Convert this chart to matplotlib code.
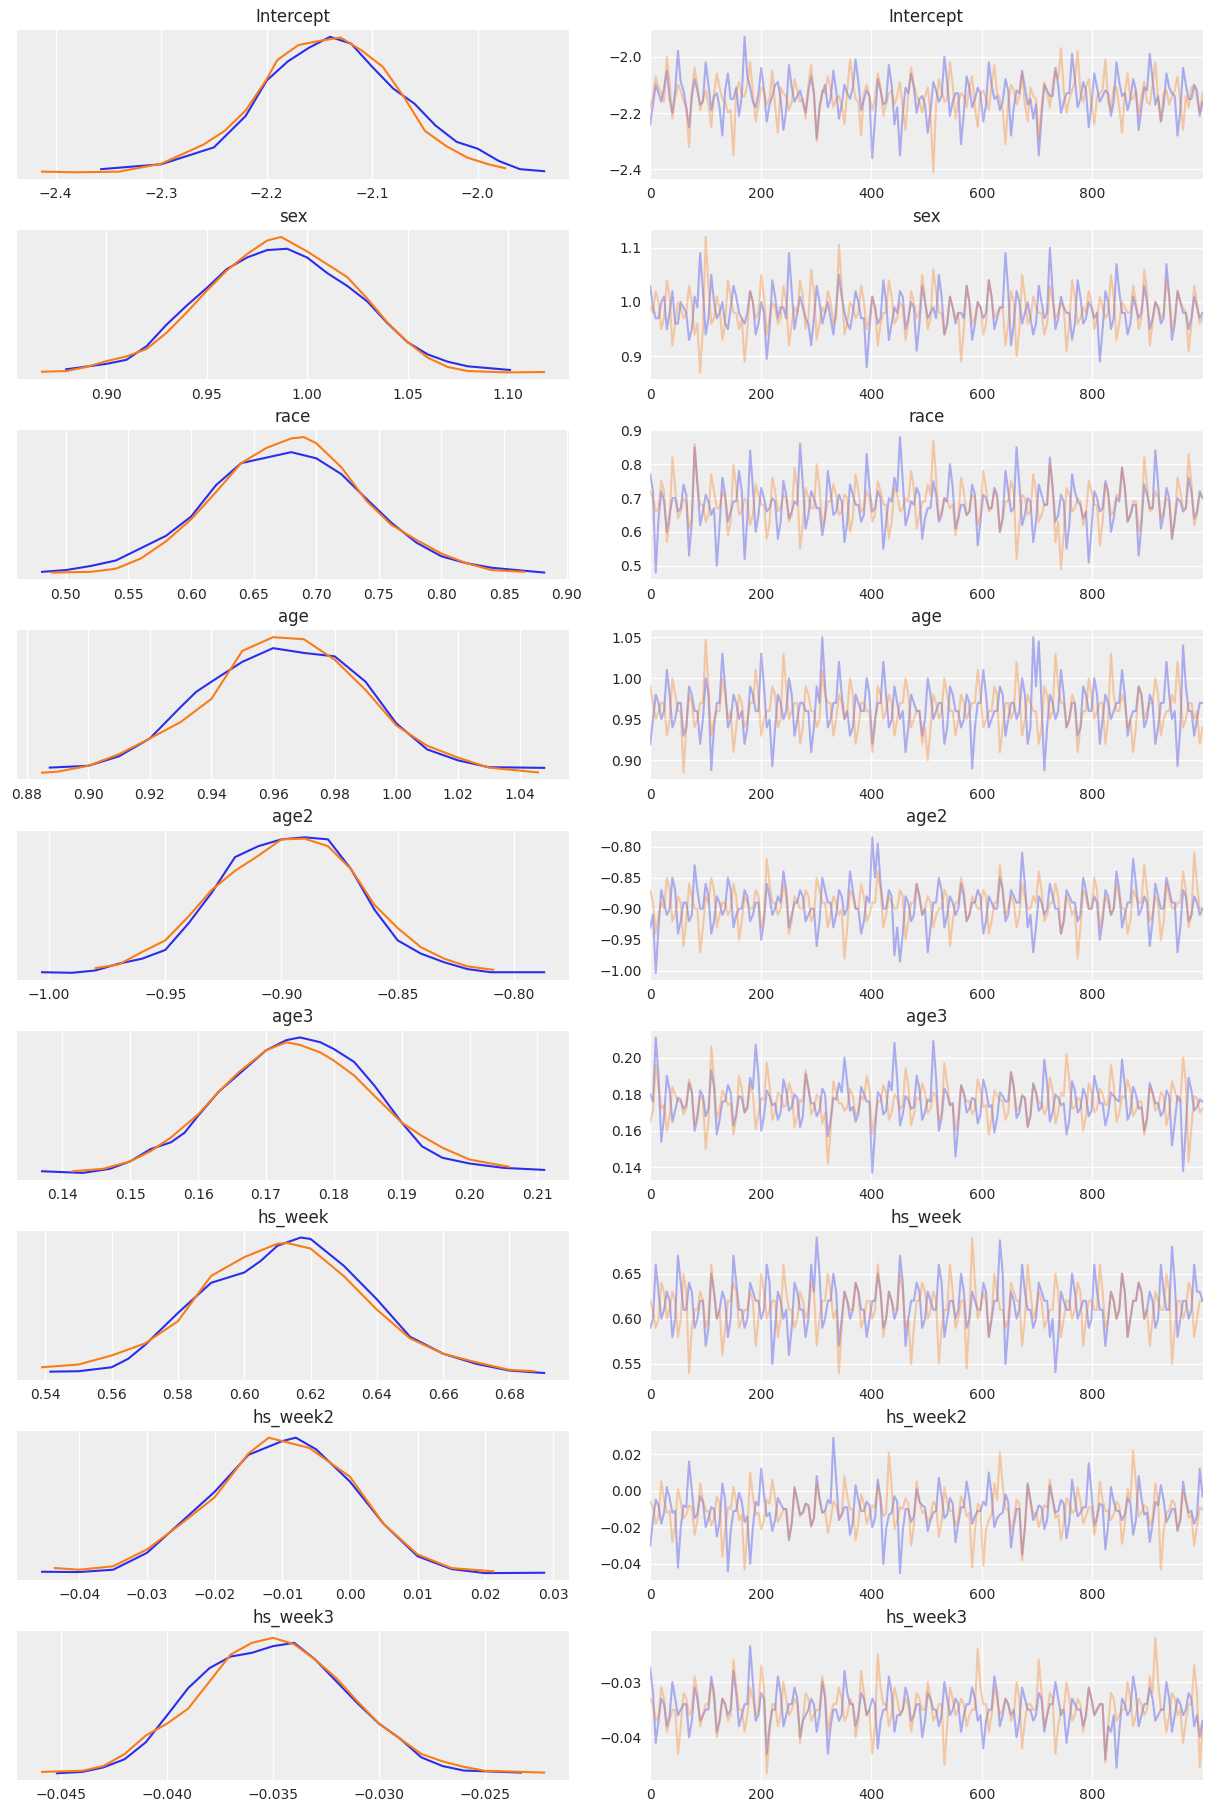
import matplotlib
matplotlib.use("Agg")
import matplotlib.pyplot as plt
import numpy as np

# posterior trace plot, 2 chains, 9 parameters
var_names = ["Intercept", "sex", "race", "age", "age2", "age3",
             "hs_week", "hs_week2", "hs_week3"]

BLUE = "#2a2eec"
ORANGE = "#fa7c17"

# ---- KDE curves (x position, relative density) ----
kde_x = {
    "Intercept": (
        [-2.357, -2.30, -2.25, -2.22, -2.20, -2.18, -2.16, -2.14, -2.12, -2.10,
         -2.08, -2.06, -2.04, -2.02, -2.00, -1.98, -1.96, -1.937],
        [-2.413, -2.38, -2.34, -2.30, -2.26, -2.24, -2.22, -2.20, -2.19, -2.17,
         -2.15, -2.13, -2.11, -2.09, -2.07, -2.05, -2.03, -2.01, -1.99, -1.974]),
    "sex": (
        [0.880, 0.90, 0.91, 0.92, 0.93, 0.94, 0.95, 0.96, 0.97, 0.98, 0.99,
         1.00, 1.01, 1.02, 1.03, 1.04, 1.05, 1.06, 1.07, 1.08, 1.101],
        [0.868, 0.88, 0.89, 0.90, 0.91, 0.92, 0.93, 0.94, 0.95, 0.96, 0.97,
         0.98, 0.987, 1.00, 1.01, 1.02, 1.03, 1.04, 1.05, 1.06, 1.07, 1.08,
         1.10, 1.118]),
    "race": (
        [0.481, 0.50, 0.52, 0.54, 0.56, 0.58, 0.60, 0.62, 0.64, 0.66, 0.68,
         0.70, 0.72, 0.74, 0.76, 0.78, 0.80, 0.82, 0.84, 0.86, 0.882],
        [0.489, 0.52, 0.54, 0.56, 0.58, 0.60, 0.62, 0.64, 0.66, 0.68, 0.69,
         0.70, 0.72, 0.74, 0.76, 0.78, 0.80, 0.82, 0.84, 0.866]),
    "age": (
        [0.8875, 0.90, 0.91, 0.92, 0.93, 0.935, 0.94, 0.95, 0.96, 0.97, 0.98,
         0.99, 1.00, 1.01, 1.02, 1.03, 1.048],
        [0.885, 0.89, 0.90, 0.91, 0.92, 0.93, 0.94, 0.95, 0.96, 0.97, 0.98,
         0.99, 1.00, 1.01, 1.02, 1.03, 1.046]),
    "age2": (
        [-1.003, -0.99, -0.98, -0.97, -0.96, -0.95, -0.94, -0.93, -0.92, -0.91,
         -0.90, -0.89, -0.88, -0.87, -0.86, -0.85, -0.84, -0.83, -0.82, -0.81,
         -0.787],
        [-0.980, -0.97, -0.96, -0.95, -0.94, -0.93, -0.92, -0.91, -0.90, -0.89,
         -0.88, -0.87, -0.86, -0.85, -0.84, -0.83, -0.82, -0.809]),
    "age3": (
        [0.137, 0.143, 0.147, 0.150, 0.153, 0.156, 0.158, 0.160, 0.163, 0.166,
         0.170, 0.173, 0.175, 0.178, 0.180, 0.183, 0.186, 0.190, 0.193, 0.196,
         0.200, 0.205, 0.211],
        [0.1415, 0.146, 0.150, 0.153, 0.156, 0.160, 0.163, 0.166, 0.170, 0.173,
         0.175, 0.178, 0.180, 0.183, 0.186, 0.190, 0.193, 0.196, 0.200, 0.2058]),
    "hs_week": (
        [0.5415, 0.55, 0.56, 0.565, 0.57, 0.58, 0.59, 0.60, 0.605, 0.61, 0.617,
         0.62, 0.63, 0.64, 0.65, 0.66, 0.67, 0.68, 0.6905],
        [0.539, 0.55, 0.56, 0.57, 0.58, 0.59, 0.60, 0.61, 0.613, 0.62, 0.63,
         0.64, 0.65, 0.66, 0.67, 0.68, 0.6875]),
    "hs_week2": (
        [-0.0455, -0.040, -0.035, -0.030, -0.025, -0.020, -0.015, -0.010,
         -0.008, -0.005, 0.000, 0.005, 0.010, 0.015, 0.020, 0.0287],
        [-0.0436, -0.040, -0.035, -0.030, -0.025, -0.020, -0.015, -0.012,
         -0.010, -0.006, 0.000, 0.005, 0.010, 0.015, 0.0212]),
    "hs_week3": (
        [-0.0452, -0.044, -0.043, -0.042, -0.041, -0.040, -0.039, -0.038,
         -0.037, -0.036, -0.035, -0.034, -0.033, -0.032, -0.031, -0.030,
         -0.029, -0.028, -0.027, -0.026, -0.0233],
        [-0.0459, -0.044, -0.043, -0.042, -0.041, -0.040, -0.039, -0.038,
         -0.037, -0.036, -0.035, -0.034, -0.033, -0.032, -0.031, -0.030,
         -0.029, -0.028, -0.027, -0.026, -0.025, -0.0222]),
}

kde_y = {
    "Intercept": (
        [0.03, 0.066, 0.19, 0.42, 0.68, 0.82, 0.92, 1.0, 0.95, 0.78,
         0.62, 0.51, 0.35, 0.23, 0.18, 0.09, 0.03, 0.015],
        [0.012, 0.007, 0.012, 0.07, 0.21, 0.31, 0.46, 0.69, 0.83, 0.94,
         0.97, 0.995, 0.90, 0.78, 0.56, 0.31, 0.20, 0.115, 0.066, 0.037]),
    "sex": (
        [0.03, 0.07, 0.10, 0.20, 0.36, 0.50, 0.63, 0.77, 0.855, 0.91, 0.92,
         0.855, 0.74, 0.645, 0.53, 0.37, 0.23, 0.14, 0.086, 0.052, 0.025],
        [0.012, 0.017, 0.047, 0.09, 0.125, 0.18, 0.30, 0.45, 0.61, 0.76, 0.88,
         0.98, 1.007, 0.90, 0.805, 0.71, 0.55, 0.375, 0.23, 0.116, 0.047, 0.017,
         0.007, 0.01]),
    "race": (
        [0.017, 0.03, 0.06, 0.10, 0.19, 0.28, 0.42, 0.65, 0.81, 0.85, 0.89,
         0.845, 0.73, 0.55, 0.375, 0.23, 0.13, 0.08, 0.047, 0.03, 0.012],
        [0.012, 0.017, 0.04, 0.115, 0.24, 0.40, 0.60, 0.81, 0.92, 0.99, 1.0,
         0.955, 0.78, 0.535, 0.36, 0.25, 0.15, 0.08, 0.03, 0.017]),
    "age": (
        [0.047, 0.06, 0.13, 0.26, 0.49, 0.60, 0.675, 0.82, 0.92, 0.885, 0.86,
         0.675, 0.37, 0.18, 0.10, 0.05, 0.045],
        [0.01, 0.017, 0.06, 0.145, 0.26, 0.38, 0.55, 0.90, 1.0, 0.985, 0.835,
         0.615, 0.355, 0.207, 0.12, 0.047, 0.012]),
    "age2": (
        [0.007, 0.003, 0.02, 0.07, 0.106, 0.17, 0.365, 0.59, 0.85, 0.93,
         0.98, 0.995, 0.98, 0.76, 0.465, 0.24, 0.143, 0.08, 0.03, 0.007,
         0.007],
        [0.037, 0.064, 0.155, 0.24, 0.415, 0.61, 0.75, 0.86, 0.98, 0.985,
         0.93, 0.76, 0.50, 0.33, 0.19, 0.106, 0.05, 0.025]),
    "age3": (
        [0.017, 0.005, 0.035, 0.09, 0.18, 0.23, 0.30, 0.425, 0.60, 0.73,
         0.905, 0.98, 1.0, 0.965, 0.915, 0.82, 0.645, 0.375, 0.20, 0.116,
         0.074, 0.042, 0.027],
        [0.017, 0.035, 0.09, 0.165, 0.265, 0.435, 0.60, 0.745, 0.905, 0.965,
         0.945, 0.89, 0.83, 0.72, 0.57, 0.375, 0.276, 0.19, 0.103, 0.05]),
    "hs_week": (
        [0.022, 0.025, 0.054, 0.116, 0.215, 0.45, 0.67, 0.745, 0.83, 0.94,
         1.0, 0.99, 0.795, 0.55, 0.277, 0.153, 0.079, 0.03, 0.012],
        [0.054, 0.074, 0.14, 0.227, 0.39, 0.72, 0.857, 0.955, 0.96, 0.92,
         0.72, 0.475, 0.265, 0.153, 0.09, 0.035, 0.025]),
    "hs_week2": (
        [0.017, 0.015, 0.032, 0.155, 0.377, 0.60, 0.87, 0.97, 0.995, 0.91,
         0.675, 0.365, 0.13, 0.037, 0.007, 0.01],
        [0.044, 0.032, 0.057, 0.18, 0.365, 0.56, 0.88, 0.995, 0.97, 0.92,
         0.71, 0.365, 0.143, 0.044, 0.02]),
    "hs_week3": (
        [0.007, 0.017, 0.05, 0.11, 0.234, 0.43, 0.63, 0.775, 0.86, 0.887,
         0.936, 0.96, 0.837, 0.677, 0.517, 0.37, 0.26, 0.123, 0.06, 0.027,
         0.012],
        [0.017, 0.025, 0.06, 0.148, 0.283, 0.37, 0.48, 0.677, 0.874, 0.96,
         0.997, 0.95, 0.837, 0.70, 0.53, 0.37, 0.26, 0.148, 0.094, 0.054,
         0.025, 0.012]),
}

# ---- traces: chain 0 (blue) and chain 1 (orange), sampled every ~5 draws.
# *_even are draws 0, 10, 20, ...; *_odd are the draws in between ----
blue_even = {
    "Intercept": [
        -2.24, -2.10, -2.16, -2.05, -2.20, -1.98, -2.12, -2.25, -2.08, -2.17,
        -2.02, -2.19, -2.13, -2.28, -2.06, -2.15, -2.21, -1.93, -2.11, -2.18,
        -2.04, -2.23, -2.14, -2.09, -2.26, -2.03, -2.16, -2.12, -2.20, -2.07,
        -2.29, -2.13, -2.18, -2.05, -2.22, -2.10, -2.15, -2.01, -2.19, -2.12,
        -2.36, -2.08, -2.17, -2.03, -2.24, -2.35, -2.11, -2.06, -2.20, -2.14,
        -2.27, -2.09, -2.16, -2.00, -2.21, -2.13, -2.31, -2.07, -2.18, -2.11,
        -2.23, -2.02, -2.15, -2.19, -2.08, -2.28, -2.12, -2.05, -2.17, -2.22,
        -2.35, -2.10, -2.14, -2.04, -2.20, -2.13, -1.99, -2.18, -2.09, -2.25,
        -2.06, -2.16, -2.12, -2.21, -2.02, -2.14, -2.19, -2.08, -2.26, -2.11,
        -1.99, -2.17, -2.23, -2.06, -2.13, -2.28, -2.04, -2.15, -2.10, -2.21],
    "sex": [
        1.03, 0.97, 1.00, 0.95, 1.02, 0.96, 0.99, 0.93, 1.01, 1.09,
        0.94, 1.05, 0.97, 1.00, 0.95, 1.03, 0.98, 0.96, 1.02, 0.94,
        1.00, 0.895, 1.04, 0.97, 0.99, 1.09, 0.95, 1.01, 0.97, 0.92,
        1.03, 0.96, 1.00, 0.94, 1.05, 0.98, 0.95, 1.02, 0.97, 0.88,
        1.01, 0.96, 1.04, 0.93, 0.99, 1.02, 0.95, 1.00, 0.91, 1.03,
        0.97, 0.99, 1.05, 0.94, 1.01, 0.96, 0.98, 1.03, 0.93, 1.00,
        0.97, 1.04, 0.95, 0.99, 1.09, 0.92, 1.02, 0.96, 1.00, 0.94,
        1.03, 0.97, 1.10, 0.95, 1.01, 0.98, 0.93, 1.04, 0.96, 1.00,
        0.97, 0.89, 1.02, 0.95, 1.07, 0.98, 0.94, 1.01, 0.97, 1.03,
        0.95, 1.00, 0.96, 1.07, 0.93, 1.02, 0.98, 0.95, 1.01, 0.97],
    "race": [
        0.77, 0.48, 0.72, 0.60, 0.70, 0.66, 0.74, 0.53, 0.85, 0.62,
        0.71, 0.65, 0.50, 0.76, 0.63, 0.69, 0.78, 0.52, 0.84, 0.60,
        0.73, 0.66, 0.70, 0.58, 0.75, 0.64, 0.69, 0.86, 0.61, 0.72,
        0.67, 0.59, 0.78, 0.65, 0.71, 0.57, 0.74, 0.68, 0.63, 0.83,
        0.66, 0.72, 0.55, 0.70, 0.76, 0.88, 0.62, 0.69, 0.73, 0.58,
        0.67, 0.75, 0.63, 0.70, 0.80, 0.61, 0.68, 0.65, 0.74, 0.56,
        0.71, 0.67, 0.73, 0.60, 0.78, 0.66, 0.85, 0.62, 0.70, 0.57,
        0.74, 0.68, 0.82, 0.63, 0.71, 0.55, 0.77, 0.69, 0.64, 0.51,
        0.72, 0.66, 0.75, 0.60, 0.70, 0.79, 0.63, 0.68, 0.53, 0.74,
        0.67, 0.84, 0.61, 0.73, 0.58, 0.70, 0.66, 0.76, 0.64, 0.72],
    "age": [
        0.92, 0.98, 0.95, 1.01, 0.94, 0.97, 0.93, 0.99, 0.96, 0.92,
        1.00, 0.888, 0.97, 1.03, 0.94, 0.98, 0.95, 0.92, 0.99, 0.96,
        1.03, 0.94, 0.893, 0.98, 0.95, 1.00, 0.93, 0.97, 0.96, 0.91,
        0.99, 1.05, 0.94, 0.97, 1.02, 0.95, 0.93, 0.98, 0.96, 1.00,
        0.92, 0.97, 1.02, 0.94, 0.99, 0.95, 0.91, 0.98, 0.96, 0.93,
        1.00, 0.95, 0.97, 0.92, 0.99, 0.96, 0.94, 0.98, 0.89, 0.97,
        1.01, 0.94, 0.96, 0.99, 0.93, 0.97, 0.95, 1.00, 0.92, 1.05,
        1.045, 0.888, 0.98, 0.95, 1.01, 0.94, 0.97, 0.93, 0.99, 0.96,
        1.00, 0.92, 0.98, 0.95, 0.97, 1.01, 0.93, 0.96, 0.99, 0.94,
        0.98, 0.92, 0.97, 1.02, 0.95, 0.893, 1.04, 0.96, 0.93, 0.97],
    "age2": [
        -0.93, -1.003, -0.87, -0.91, -0.85, -0.94, -0.89, -0.92, -0.83, -0.90,
        -0.86, -0.94, -0.88, -0.91, -0.85, -0.93, -0.90, -0.87, -0.92, -0.89,
        -0.95, -0.86, -0.91, -0.88, -0.84, -0.93, -0.89, -0.87, -0.92, -0.90,
        -0.96, -0.85, -0.89, -0.93, -0.87, -0.91, -0.84, -0.90, -0.94, -0.88,
        -0.785, -0.795, -0.90, -0.87, -0.975, -0.985, -0.88, -0.92, -0.86, -0.91,
        -0.97, -0.89, -0.85, -0.93, -0.88, -0.91, -0.86, -0.92, -0.89, -0.87,
        -0.94, -0.88, -0.90, -0.85, -0.92, -0.87, -0.89, -0.81, -0.93, -0.97,
        -0.88, -0.91, -0.86, -0.90, -0.94, -0.87, -0.89, -0.92, -0.85, -0.90,
        -0.88, -0.95, -0.87, -0.91, -0.84, -0.93, -0.89, -0.82, -0.91, -0.88,
        -0.96, -0.86, -0.90, -0.85, -0.89, -0.97, -0.87, -0.92, -0.88, -0.91],
    "age3": [
        0.180, 0.211, 0.154, 0.190, 0.165, 0.178, 0.172, 0.186, 0.160, 0.182,
        0.168, 0.193, 0.158, 0.176, 0.185, 0.163, 0.179, 0.170, 0.189, 0.207,
        0.160, 0.182, 0.174, 0.166, 0.188, 0.171, 0.180, 0.162, 0.191, 0.175,
        0.168, 0.183, 0.157, 0.178, 0.186, 0.200, 0.171, 0.165, 0.184, 0.176,
        0.137, 0.181, 0.169, 0.187, 0.208, 0.163, 0.179, 0.172, 0.190, 0.166,
        0.177, 0.209, 0.160, 0.183, 0.174, 0.146, 0.185, 0.170, 0.178, 0.164,
        0.188, 0.173, 0.159, 0.181, 0.176, 0.192, 0.167, 0.179, 0.162, 0.186,
        0.171, 0.199, 0.165, 0.180, 0.174, 0.158, 0.187, 0.170, 0.183, 0.168,
        0.190, 0.175, 0.163, 0.181, 0.177, 0.199, 0.166, 0.184, 0.172, 0.160,
        0.186, 0.175, 0.168, 0.182, 0.152, 0.179, 0.138, 0.189, 0.171, 0.177],
    "hs_week": [
        0.59, 0.66, 0.60, 0.63, 0.58, 0.67, 0.61, 0.64, 0.59, 0.62,
        0.57, 0.65, 0.60, 0.63, 0.58, 0.67, 0.61, 0.59, 0.64, 0.62,
        0.60, 0.66, 0.55, 0.63, 0.60, 0.56, 0.64, 0.61, 0.58, 0.66,
        0.69, 0.59, 0.62, 0.65, 0.57, 0.63, 0.60, 0.64, 0.61, 0.58,
        0.62, 0.65, 0.59, 0.63, 0.60, 0.67, 0.57, 0.62, 0.64, 0.59,
        0.63, 0.61, 0.66, 0.58, 0.62, 0.60, 0.65, 0.59, 0.63, 0.61,
        0.64, 0.58, 0.62, 0.687, 0.55, 0.63, 0.60, 0.66, 0.61, 0.59,
        0.64, 0.62, 0.58, 0.541, 0.63, 0.61, 0.65, 0.60, 0.62, 0.59,
        0.66, 0.61, 0.57, 0.63, 0.60, 0.65, 0.58, 0.62, 0.64, 0.60,
        0.63, 0.59, 0.66, 0.61, 0.68, 0.58, 0.62, 0.60, 0.66, 0.63],
    "hs_week2": [
        -0.030, -0.005, -0.018, 0.002, -0.012, -0.042, -0.008, 0.016, -0.015, -0.003,
        -0.020, -0.009, -0.025, 0.004, -0.044, -0.011, -0.001, -0.017, -0.040, -0.006,
        0.012, -0.014, -0.022, -0.004, -0.010, -0.027, 0.002, -0.013, -0.007, -0.019,
        0.008, -0.012, -0.005, 0.029, -0.016, -0.009, -0.024, 0.003, -0.011, -0.006,
        -0.020, 0.006, -0.040, -0.013, -0.003, -0.045, -0.010, -0.017, 0.001, -0.008,
        -0.022, -0.012, 0.007, -0.015, -0.004, -0.028, -0.009, 0.005, -0.018, -0.011,
        -0.006, 0.010, -0.020, -0.013, -0.002, -0.031, -0.010, -0.035, 0.004, -0.016,
        -0.008, -0.021, 0.003, -0.012, -0.005, -0.026, 0.006, -0.014, -0.009, 0.015,
        -0.019, -0.007, -0.032, 0.002, -0.011, -0.016, -0.004, -0.024, 0.008, -0.013,
        -0.028, -0.006, 0.003, -0.017, -0.010, -0.022, 0.005, -0.012, -0.018, 0.012],
    "hs_week3": [
        -0.0275, -0.041, -0.033, -0.038, -0.030, -0.036, -0.034, -0.040, -0.031, -0.037,
        -0.035, -0.029, -0.039, -0.033, -0.036, -0.028, -0.038, -0.034, -0.0235, -0.037,
        -0.032, -0.043, -0.035, -0.029, -0.038, -0.034, -0.031, -0.040, -0.036, -0.033,
        -0.039, -0.030, -0.043, -0.035, -0.037, -0.028, -0.034, -0.038, -0.032, -0.036,
        -0.033, -0.042, -0.035, -0.029, -0.039, -0.036, -0.031, -0.037, -0.034, -0.040,
        -0.032, -0.035, -0.038, -0.030, -0.036, -0.033, -0.039, -0.034, -0.031, -0.037,
        -0.042, -0.035, -0.029, -0.038, -0.033, -0.036, -0.040, -0.031, -0.035, -0.037,
        -0.032, -0.039, -0.034, -0.030, -0.036, -0.041, -0.033, -0.035, -0.038, -0.031,
        -0.036, -0.034, -0.044, -0.039, -0.0455, -0.033, -0.036, -0.029, -0.038, -0.034,
        -0.031, -0.037, -0.035, -0.030, -0.039, -0.033, -0.036, -0.032, -0.038, -0.040],
}

blue_odd = {
    "Intercept": [
        -2.17, -2.13, -2.11, -2.15, -2.12, -2.09, -2.18, -2.14, -2.12, -2.16,
        -2.10, -2.14, -2.18, -2.12, -2.15, -2.11, -2.14, -2.07, -2.16, -2.13,
        -2.12, -2.17, -2.10, -2.15, -2.19, -2.11, -2.14, -2.16, -2.12, -2.13,
        -2.18, -2.10, -2.15, -2.12, -2.17, -2.13, -2.11, -2.09, -2.15, -2.14,
        -2.22, -2.12, -2.16, -2.10, -2.18, -2.20, -2.13, -2.11, -2.15, -2.17,
        -2.19, -2.12, -2.14, -2.09, -2.16, -2.13, -2.20, -2.11, -2.15, -2.13,
        -2.17, -2.10, -2.14, -2.16, -2.12, -2.18, -2.13, -2.11, -2.15, -2.17,
        -2.21, -2.12, -2.14, -2.10, -2.16, -2.13, -2.08, -2.15, -2.12, -2.17,
        -2.11, -2.14, -2.13, -2.16, -2.09, -2.13, -2.15, -2.12, -2.18, -2.12,
        -2.08, -2.14, -2.17, -2.11, -2.14, -2.19, -2.10, -2.15, -2.12, -2.16],
    "sex": [
        0.99, 0.97, 1.01, 0.98, 0.96, 1.00, 0.98, 0.95, 0.99, 1.02,
        0.97, 1.00, 0.98, 0.96, 0.99, 1.01, 0.97, 0.98, 1.00, 0.96,
        0.98, 0.95, 1.01, 0.99, 0.97, 1.02, 0.98, 0.99, 0.96, 0.97,
        1.00, 0.98, 0.97, 0.99, 1.01, 0.96, 0.98, 1.00, 0.97, 0.95,
        0.99, 0.97, 1.00, 0.96, 0.98, 1.01, 0.97, 0.99, 0.96, 1.00,
        0.98, 0.97, 1.01, 0.96, 0.99, 0.98, 0.97, 1.00, 0.96, 0.99,
        0.98, 1.01, 0.97, 0.99, 1.02, 0.96, 1.00, 0.98, 0.97, 0.96,
        1.00, 0.98, 1.02, 0.97, 0.99, 0.98, 0.96, 1.01, 0.97, 0.99,
        0.98, 0.95, 1.00, 0.97, 1.02, 0.98, 0.96, 0.99, 0.98, 1.00,
        0.97, 0.99, 0.97, 1.01, 0.96, 1.00, 0.98, 0.97, 0.99, 0.98],
    "race": [
        0.72, 0.64, 0.69, 0.65, 0.70, 0.67, 0.71, 0.63, 0.74, 0.66,
        0.69, 0.67, 0.62, 0.71, 0.66, 0.69, 0.72, 0.64, 0.73, 0.65,
        0.70, 0.67, 0.69, 0.63, 0.71, 0.66, 0.68, 0.74, 0.65, 0.70,
        0.67, 0.64, 0.72, 0.66, 0.69, 0.63, 0.71, 0.68, 0.65, 0.73,
        0.67, 0.70, 0.63, 0.69, 0.72, 0.75, 0.65, 0.68, 0.71, 0.64,
        0.67, 0.71, 0.65, 0.69, 0.73, 0.64, 0.68, 0.66, 0.71, 0.63,
        0.70, 0.67, 0.71, 0.64, 0.72, 0.67, 0.74, 0.65, 0.69, 0.63,
        0.71, 0.68, 0.73, 0.65, 0.69, 0.62, 0.72, 0.68, 0.66, 0.61,
        0.70, 0.67, 0.72, 0.64, 0.69, 0.73, 0.65, 0.68, 0.62, 0.71,
        0.67, 0.74, 0.65, 0.70, 0.64, 0.69, 0.67, 0.72, 0.66, 0.70],
    "age": [
        0.95, 0.97, 0.96, 0.98, 0.95, 0.97, 0.94, 0.98, 0.96, 0.95,
        0.98, 0.94, 0.97, 0.99, 0.95, 0.97, 0.96, 0.94, 0.98, 0.96,
        0.99, 0.95, 0.94, 0.97, 0.96, 0.98, 0.95, 0.97, 0.96, 0.94,
        0.97, 0.99, 0.95, 0.97, 0.98, 0.96, 0.94, 0.97, 0.96, 0.98,
        0.95, 0.97, 0.98, 0.95, 0.97, 0.96, 0.94, 0.97, 0.96, 0.95,
        0.98, 0.96, 0.97, 0.94, 0.98, 0.96, 0.95, 0.97, 0.94, 0.97,
        0.98, 0.95, 0.96, 0.98, 0.95, 0.97, 0.96, 0.98, 0.94, 0.99,
        0.97, 0.94, 0.97, 0.96, 0.98, 0.95, 0.97, 0.94, 0.98, 0.96,
        0.98, 0.95, 0.97, 0.96, 0.97, 0.98, 0.95, 0.96, 0.98, 0.95,
        0.97, 0.94, 0.97, 0.98, 0.96, 0.94, 0.99, 0.96, 0.95, 0.97],
    "age2": [
        -0.91, -0.93, -0.89, -0.90, -0.87, -0.92, -0.89, -0.91, -0.87, -0.90,
        -0.88, -0.92, -0.89, -0.90, -0.87, -0.91, -0.90, -0.88, -0.91, -0.89,
        -0.92, -0.88, -0.90, -0.89, -0.87, -0.91, -0.89, -0.88, -0.91, -0.90,
        -0.92, -0.87, -0.89, -0.91, -0.88, -0.90, -0.87, -0.90, -0.92, -0.89,
        -0.85, -0.86, -0.90, -0.88, -0.93, -0.94, -0.89, -0.91, -0.88, -0.90,
        -0.93, -0.89, -0.87, -0.91, -0.89, -0.90, -0.88, -0.91, -0.89, -0.88,
        -0.92, -0.89, -0.90, -0.87, -0.91, -0.88, -0.89, -0.86, -0.91, -0.93,
        -0.89, -0.90, -0.88, -0.90, -0.92, -0.88, -0.89, -0.91, -0.87, -0.90,
        -0.89, -0.92, -0.88, -0.90, -0.87, -0.91, -0.89, -0.86, -0.90, -0.89,
        -0.92, -0.88, -0.90, -0.87, -0.89, -0.93, -0.88, -0.91, -0.89, -0.90],
    "age3": [
        0.176, 0.190, 0.168, 0.182, 0.171, 0.177, 0.174, 0.181, 0.167, 0.179,
        0.172, 0.184, 0.166, 0.176, 0.181, 0.169, 0.178, 0.173, 0.183, 0.190,
        0.168, 0.179, 0.175, 0.170, 0.182, 0.173, 0.178, 0.168, 0.183, 0.175,
        0.171, 0.180, 0.166, 0.177, 0.181, 0.186, 0.173, 0.169, 0.180, 0.176,
        0.160, 0.179, 0.171, 0.182, 0.188, 0.169, 0.177, 0.173, 0.183, 0.170,
        0.176, 0.189, 0.167, 0.180, 0.175, 0.163, 0.181, 0.172, 0.177, 0.169,
        0.182, 0.174, 0.167, 0.179, 0.176, 0.184, 0.170, 0.178, 0.168, 0.181,
        0.173, 0.186, 0.170, 0.178, 0.175, 0.166, 0.182, 0.172, 0.179, 0.171,
        0.183, 0.175, 0.169, 0.179, 0.176, 0.185, 0.170, 0.180, 0.173, 0.167,
        0.181, 0.175, 0.171, 0.179, 0.165, 0.177, 0.162, 0.182, 0.173, 0.176],
    "hs_week": [
        0.60, 0.63, 0.61, 0.62, 0.60, 0.64, 0.61, 0.63, 0.60, 0.62,
        0.59, 0.63, 0.61, 0.62, 0.60, 0.64, 0.61, 0.60, 0.63, 0.62,
        0.61, 0.64, 0.59, 0.62, 0.61, 0.59, 0.63, 0.61, 0.60, 0.63,
        0.65, 0.60, 0.62, 0.63, 0.60, 0.62, 0.61, 0.63, 0.61, 0.60,
        0.62, 0.63, 0.60, 0.62, 0.61, 0.64, 0.60, 0.62, 0.63, 0.60,
        0.62, 0.61, 0.64, 0.60, 0.62, 0.61, 0.63, 0.60, 0.62, 0.61,
        0.63, 0.60, 0.62, 0.65, 0.59, 0.62, 0.61, 0.63, 0.61, 0.60,
        0.63, 0.62, 0.60, 0.58, 0.62, 0.61, 0.63, 0.61, 0.62, 0.60,
        0.63, 0.61, 0.60, 0.62, 0.61, 0.63, 0.60, 0.62, 0.63, 0.61,
        0.62, 0.60, 0.63, 0.61, 0.64, 0.60, 0.62, 0.61, 0.63, 0.62],
    "hs_week2": [
        -0.016, -0.008, -0.012, -0.004, -0.011, -0.020, -0.009, 0.000, -0.013, -0.006,
        -0.015, -0.010, -0.017, -0.005, -0.022, -0.011, -0.006, -0.014, -0.020, -0.008,
        -0.002, -0.012, -0.016, -0.007, -0.010, -0.018, -0.005, -0.012, -0.008, -0.015,
        -0.004, -0.011, -0.007, 0.006, -0.013, -0.009, -0.017, -0.005, -0.011, -0.008,
        -0.015, -0.004, -0.021, -0.012, -0.006, -0.022, -0.010, -0.014, -0.006, -0.009,
        -0.016, -0.011, -0.003, -0.013, -0.007, -0.018, -0.009, -0.004, -0.014, -0.011,
        -0.008, -0.002, -0.015, -0.012, -0.006, -0.019, -0.010, -0.020, -0.005, -0.013,
        -0.009, -0.016, -0.005, -0.011, -0.007, -0.017, -0.004, -0.012, -0.009, -0.001,
        -0.014, -0.008, -0.019, -0.006, -0.011, -0.013, -0.007, -0.016, -0.004, -0.012,
        -0.018, -0.008, -0.005, -0.014, -0.010, -0.016, -0.005, -0.011, -0.014, -0.003],
    "hs_week3": [
        -0.032, -0.037, -0.034, -0.036, -0.033, -0.035, -0.034, -0.037, -0.033, -0.036,
        -0.035, -0.032, -0.037, -0.034, -0.035, -0.032, -0.036, -0.034, -0.030, -0.036,
        -0.033, -0.038, -0.035, -0.032, -0.036, -0.034, -0.033, -0.037, -0.035, -0.034,
        -0.036, -0.033, -0.038, -0.035, -0.036, -0.032, -0.034, -0.036, -0.033, -0.035,
        -0.034, -0.037, -0.035, -0.032, -0.036, -0.035, -0.033, -0.036, -0.034, -0.037,
        -0.033, -0.035, -0.036, -0.033, -0.035, -0.034, -0.036, -0.034, -0.033, -0.036,
        -0.037, -0.035, -0.032, -0.036, -0.034, -0.035, -0.037, -0.033, -0.035, -0.036,
        -0.033, -0.036, -0.034, -0.033, -0.035, -0.037, -0.034, -0.035, -0.036, -0.033,
        -0.035, -0.034, -0.038, -0.036, -0.039, -0.034, -0.035, -0.032, -0.036, -0.034,
        -0.033, -0.036, -0.035, -0.033, -0.036, -0.034, -0.035, -0.033, -0.036, -0.037],
}

orange_even = {
    "Intercept": [
        -2.18, -2.07, -2.13, -2.00, -2.22, -2.10, -2.16, -2.32, -2.04, -2.19,
        -2.12, -2.25, -2.06, -2.15, -2.20, -2.35, -2.09, -2.14, -2.02, -2.23,
        -2.11, -2.17, -2.05, -2.27, -2.13, -2.19, -2.08, -2.16, -2.22, -2.03,
        -2.30, -2.12, -2.07, -2.18, -2.14, -2.24, -2.01, -2.15, -2.28, -2.10,
        -2.19, -2.06, -2.21, -2.13, -2.17, -2.09, -2.26, -2.04, -2.14, -2.20,
        -2.11, -2.41, -2.08, -2.16, -2.02, -2.22, -2.13, -2.18, -2.07, -2.25,
        -2.12, -2.19, -2.03, -2.15, -2.31, -2.10, -2.17, -2.06, -2.23, -2.14,
        -2.29, -2.09, -2.18, -2.05, -1.97, -2.20, -2.12, -1.98, -2.16, -2.08,
        -2.24, -2.13, -2.01, -2.19, -2.11, -2.27, -2.06, -2.15, -2.21, -2.09,
        -2.17, -2.02, -2.23, -2.12, -2.14, -2.07, -2.26, -2.18, -2.10, -2.20],
    "sex": [
        0.99, 1.02, 0.95, 1.04, 0.92, 1.00, 0.97, 1.03, 0.94, 0.87,
        1.12, 0.96, 1.01, 0.93, 1.04, 0.98, 0.95, 0.89, 1.02, 0.97,
        1.05, 0.94, 1.00, 0.96, 1.03, 0.92, 0.99, 1.04, 0.95, 1.06,
        0.93, 0.99, 1.02, 0.96, 1.105, 0.94, 1.00, 0.97, 1.03, 0.95,
        1.01, 0.92, 0.98, 1.04, 0.96, 1.00, 0.93, 1.02, 0.97, 1.05,
        0.95, 1.06, 0.98, 0.94, 1.01, 0.97, 0.89, 1.03, 0.96, 1.00,
        0.94, 1.04, 0.97, 0.99, 0.92, 1.02, 0.90, 1.05, 0.96, 1.01,
        0.98, 0.94, 1.03, 0.97, 1.00, 0.91, 1.04, 0.96, 0.99, 1.02,
        0.95, 1.01, 0.97, 1.05, 0.93, 1.00, 0.98, 1.03, 0.95, 1.06,
        0.92, 1.00, 0.97, 1.04, 0.95, 1.02, 0.99, 0.91, 1.03, 0.96],
    "race": [
        0.72, 0.66, 0.75, 0.57, 0.82, 0.64, 0.70, 0.61, 0.86, 0.68,
        0.63, 0.77, 0.67, 0.72, 0.59, 0.80, 0.65, 0.70, 0.62, 0.74,
        0.68, 0.58, 0.76, 0.66, 0.71, 0.63, 0.79, 0.55, 0.73, 0.67,
        0.80, 0.62, 0.69, 0.74, 0.65, 0.71, 0.60, 0.77, 0.66, 0.72,
        0.63, 0.75, 0.68, 0.58, 0.73, 0.66, 0.70, 0.78, 0.61, 0.69,
        0.74, 0.87, 0.64, 0.70, 0.67, 0.59, 0.76, 0.65, 0.71, 0.62,
        0.78, 0.66, 0.72, 0.60, 0.69, 0.75, 0.52, 0.71, 0.65, 0.77,
        0.63, 0.68, 0.80, 0.57, 0.49, 0.73, 0.66, 0.70, 0.62, 0.75,
        0.68, 0.56, 0.74, 0.65, 0.71, 0.79, 0.63, 0.69, 0.60, 0.82,
        0.66, 0.72, 0.64, 0.70, 0.58, 0.76, 0.67, 0.83, 0.62, 0.71],
    "age": [
        0.99, 0.95, 0.97, 0.93, 1.00, 0.96, 0.885, 0.98, 0.94, 0.97,
        1.047, 0.93, 0.96, 1.00, 0.95, 0.91, 0.98, 0.94, 0.97, 1.01,
        0.93, 0.96, 0.99, 0.94, 1.03, 0.95, 0.97, 0.92, 0.99, 0.96,
        0.94, 1.01, 0.97, 0.93, 0.98, 0.95, 1.00, 0.92, 0.97, 0.96,
        0.91, 0.99, 0.95, 0.98, 0.93, 0.97, 1.00, 0.94, 0.96, 0.92,
        0.90, 0.98, 0.95, 1.00, 0.96, 0.93, 0.98, 0.95, 0.97, 1.01,
        0.94, 0.96, 0.99, 0.91, 0.97, 0.95, 1.02, 0.93, 0.98, 0.96,
        0.92, 0.99, 0.95, 1.03, 0.97, 0.94, 0.98, 0.91, 0.96, 1.00,
        0.95, 0.97, 0.92, 1.03, 0.96, 0.98, 0.94, 0.91, 0.99, 0.95,
        0.97, 1.00, 0.93, 0.96, 0.98, 1.02, 0.94, 0.97, 0.95, 0.92],
    "age2": [
        -0.87, -0.94, -0.89, -0.85, -0.92, -0.88, -0.96, -0.86, -0.90, -0.97,
        -0.88, -0.85, -0.93, -0.89, -0.91, -0.86, -0.95, -0.88, -0.90, -0.87,
        -0.93, -0.82, -0.89, -0.91, -0.86, -0.94, -0.88, -0.90, -0.87, -0.92,
        -0.85, -0.89, -0.93, -0.88, -0.91, -0.98, -0.87, -0.90, -0.86, -0.92,
        -0.89, -0.84, -0.93, -0.88, -0.90, -0.87, -0.95, -0.89, -0.86, -0.91,
        -0.88, -0.93, -0.90, -0.87, -0.96, -0.89, -0.85, -0.92, -0.88, -0.90,
        -0.87, -0.94, -0.89, -0.83, -0.91, -0.88, -0.93, -0.86, -0.90, -0.88,
        -0.84, -0.92, -0.89, -0.86, -0.94, -0.88, -0.91, -0.98, -0.87, -0.90,
        -0.85, -0.93, -0.88, -0.91, -0.86, -0.90, -0.94, -0.87, -0.89, -0.83,
        -0.92, -0.88, -0.95, -0.86, -0.90, -0.89, -0.84, -0.93, -0.81, -0.90],
    "age3": [
        0.165, 0.196, 0.172, 0.160, 0.184, 0.176, 0.169, 0.188, 0.163, 0.179,
        0.150, 0.206, 0.167, 0.182, 0.174, 0.158, 0.190, 0.170, 0.185, 0.161,
        0.178, 0.197, 0.166, 0.181, 0.173, 0.186, 0.162, 0.177, 0.193, 0.169,
        0.180, 0.164, 0.142, 0.187, 0.175, 0.171, 0.183, 0.168, 0.179, 0.190,
        0.158, 0.176, 0.185, 0.166, 0.180, 0.172, 0.194, 0.163, 0.178, 0.186,
        0.170, 0.181, 0.165, 0.197, 0.174, 0.160, 0.184, 0.176, 0.169, 0.188,
        0.173, 0.158, 0.182, 0.177, 0.166, 0.192, 0.171, 0.180, 0.163, 0.185,
        0.175, 0.169, 0.189, 0.164, 0.181, 0.202, 0.172, 0.178, 0.160, 0.186,
        0.170, 0.183, 0.174, 0.196, 0.165, 0.179, 0.188, 0.168, 0.176, 0.158,
        0.184, 0.171, 0.181, 0.163, 0.187, 0.177, 0.200, 0.143, 0.179, 0.170],
    "hs_week": [
        0.62, 0.59, 0.64, 0.60, 0.63, 0.58, 0.65, 0.54, 0.61, 0.63,
        0.59, 0.66, 0.60, 0.56, 0.62, 0.64, 0.59, 0.61, 0.63, 0.57,
        0.65, 0.60, 0.62, 0.58, 0.66, 0.61, 0.59, 0.63, 0.60, 0.64,
        0.57, 0.62, 0.65, 0.60, 0.54, 0.63, 0.61, 0.64, 0.59, 0.62,
        0.60, 0.66, 0.58, 0.63, 0.61, 0.65, 0.59, 0.55, 0.62, 0.64,
        0.60, 0.63, 0.55, 0.61, 0.66, 0.59, 0.62, 0.545, 0.69, 0.60,
        0.63, 0.58, 0.65, 0.61, 0.59, 0.64, 0.62, 0.57, 0.66, 0.60,
        0.63, 0.59, 0.61, 0.65, 0.58, 0.62, 0.60, 0.64, 0.57, 0.62,
        0.61, 0.66, 0.59, 0.63, 0.60, 0.65, 0.58, 0.62, 0.64, 0.60,
        0.57, 0.63, 0.61, 0.65, 0.55, 0.62, 0.60, 0.64, 0.58, 0.62],
    "hs_week2": [
        -0.006, -0.018, 0.005, -0.012, -0.028, 0.001, -0.015, -0.008, -0.024, 0.004,
        -0.011, -0.019, -0.003, -0.036, -0.009, 0.002, -0.016, -0.043, 0.010, -0.013,
        -0.021, -0.005, 0.006, -0.017, -0.010, -0.026, 0.001, -0.014, -0.007, -0.020,
        0.004, -0.012, -0.023, -0.006, -0.015, 0.008, -0.010, -0.027, -0.002, -0.018,
        -0.008, 0.003, -0.014, 0.021, -0.021, -0.009, -0.004, -0.030, 0.005, -0.012,
        -0.017, -0.006, -0.025, 0.002, -0.011, -0.019, -0.003, -0.014, -0.042, -0.007,
        -0.041, -0.016, 0.004, 0.021, -0.010, -0.022, -0.005, -0.038, 0.003, -0.013,
        -0.020, -0.008, 0.006, -0.015, -0.027, -0.004, -0.012, 0.002, -0.018, -0.009,
        -0.024, 0.005, -0.011, -0.016, -0.006, -0.029, 0.001, 0.022, -0.014, -0.008,
        -0.019, 0.004, -0.043, -0.012, -0.005, -0.021, 0.000, -0.015, -0.030, -0.009],
    "hs_week3": [
        -0.033, -0.037, -0.031, -0.039, -0.035, -0.043, -0.032, -0.036, -0.029, -0.038,
        -0.034, -0.030, -0.040, -0.033, -0.037, -0.026, -0.035, -0.039, -0.031, -0.036,
        -0.027, -0.0465, -0.034, -0.038, -0.030, -0.036, -0.033, -0.041, -0.032, -0.037,
        -0.035, -0.029, -0.039, -0.034, -0.031, -0.037, -0.033, -0.040, -0.028, -0.036,
        -0.043, -0.025, -0.034, -0.038, -0.031, -0.036, -0.033, -0.039, -0.032, -0.035,
        -0.030, -0.037, -0.034, -0.045, -0.031, -0.036, -0.033, -0.038, -0.035, -0.024,
        -0.034, -0.039, -0.031, -0.036, -0.033, -0.037, -0.030, -0.042, -0.034, -0.035,
        -0.026, -0.038, -0.032, -0.043, -0.035, -0.030, -0.037, -0.033, -0.039, -0.031,
        -0.036, -0.034, -0.0445, -0.032, -0.037, -0.035, -0.030, -0.038, -0.033, -0.036,
        -0.029, -0.022, -0.035, -0.039, -0.032, -0.036, -0.041, -0.034, -0.027, -0.0455],
}

orange_odd = {
    "Intercept": [
        -2.14, -2.11, -2.16, -2.09, -2.15, -2.12, -2.18, -2.13, -2.10, -2.15,
        -2.17, -2.13, -2.11, -2.16, -2.19, -2.12, -2.14, -2.10, -2.13, -2.17,
        -2.12, -2.15, -2.18, -2.11, -2.14, -2.16, -2.12, -2.15, -2.10, -2.14,
        -2.19, -2.13, -2.11, -2.15, -2.17, -2.12, -2.09, -2.16, -2.13, -2.14,
        -2.15, -2.11, -2.17, -2.12, -2.14, -2.18, -2.13, -2.10, -2.16, -2.14,
        -2.21, -2.17, -2.12, -2.15, -2.10, -2.16, -2.14, -2.11, -2.18, -2.13,
        -2.15, -2.10, -2.13, -2.19, -2.16, -2.12, -2.14, -2.17, -2.11, -2.15,
        -2.18, -2.13, -2.10, -2.08, -2.12, -2.15, -2.09, -2.13, -2.11, -2.17,
        -2.14, -2.12, -2.16, -2.11, -2.18, -2.13, -2.15, -2.12, -2.14, -2.16,
        -2.10, -2.15, -2.13, -2.17, -2.12, -2.16, -2.14, -2.11, -2.15, -2.13],
    "sex": [
        0.98, 1.00, 0.97, 1.01, 0.96, 0.99, 0.98, 1.00, 0.96, 0.95,
        1.03, 0.97, 0.99, 0.96, 1.01, 0.98, 0.97, 0.95, 1.00, 0.98,
        1.01, 0.97, 0.99, 0.97, 1.00, 0.96, 0.98, 1.01, 0.97, 1.02,
        0.96, 0.98, 1.00, 0.97, 1.03, 0.96, 0.99, 0.98, 1.00, 0.97,
        0.99, 0.96, 0.98, 1.01, 0.97, 0.99, 0.96, 1.00, 0.98, 1.01,
        0.97, 1.02, 0.98, 0.96, 0.99, 0.98, 0.95, 1.00, 0.97, 0.99,
        0.96, 1.01, 0.98, 0.99, 0.96, 1.00, 0.95, 1.01, 0.97, 0.99,
        0.98, 0.96, 1.00, 0.98, 0.99, 0.96, 1.01, 0.97, 0.98, 1.00,
        0.97, 0.99, 0.98, 1.01, 0.96, 0.99, 0.98, 1.00, 0.97, 1.02,
        0.96, 0.99, 0.98, 1.01, 0.97, 1.00, 0.98, 0.96, 1.00, 0.97],
    "race": [
        0.70, 0.67, 0.72, 0.63, 0.73, 0.66, 0.69, 0.64, 0.75, 0.68,
        0.65, 0.72, 0.67, 0.70, 0.63, 0.73, 0.66, 0.69, 0.65, 0.71,
        0.68, 0.63, 0.72, 0.67, 0.70, 0.65, 0.73, 0.62, 0.70, 0.67,
        0.73, 0.65, 0.69, 0.71, 0.66, 0.70, 0.64, 0.72, 0.67, 0.70,
        0.65, 0.72, 0.68, 0.63, 0.71, 0.67, 0.69, 0.73, 0.65, 0.69,
        0.71, 0.76, 0.66, 0.69, 0.68, 0.64, 0.72, 0.66, 0.70, 0.65,
        0.73, 0.67, 0.70, 0.64, 0.69, 0.72, 0.62, 0.70, 0.66, 0.72,
        0.65, 0.68, 0.73, 0.63, 0.60, 0.71, 0.67, 0.69, 0.65, 0.72,
        0.68, 0.63, 0.71, 0.66, 0.70, 0.73, 0.65, 0.69, 0.64, 0.74,
        0.67, 0.70, 0.66, 0.69, 0.63, 0.72, 0.67, 0.74, 0.65, 0.70],
    "age": [
        0.97, 0.96, 0.97, 0.95, 0.98, 0.96, 0.94, 0.97, 0.95, 0.97,
        0.99, 0.95, 0.96, 0.98, 0.96, 0.94, 0.97, 0.95, 0.97, 0.98,
        0.95, 0.96, 0.98, 0.95, 0.99, 0.96, 0.97, 0.94, 0.98, 0.96,
        0.95, 0.98, 0.97, 0.95, 0.97, 0.96, 0.98, 0.94, 0.97, 0.96,
        0.94, 0.98, 0.96, 0.97, 0.95, 0.97, 0.98, 0.95, 0.96, 0.94,
        0.94, 0.97, 0.96, 0.98, 0.96, 0.95, 0.97, 0.96, 0.97, 0.98,
        0.95, 0.96, 0.98, 0.94, 0.97, 0.96, 0.98, 0.95, 0.97, 0.96,
        0.94, 0.98, 0.96, 0.99, 0.97, 0.95, 0.97, 0.94, 0.96, 0.98,
        0.96, 0.97, 0.95, 0.98, 0.96, 0.97, 0.95, 0.94, 0.98, 0.96,
        0.97, 0.98, 0.95, 0.96, 0.97, 0.98, 0.95, 0.97, 0.96, 0.94],
    "age2": [
        -0.89, -0.91, -0.90, -0.87, -0.91, -0.89, -0.92, -0.88, -0.90, -0.93,
        -0.89, -0.87, -0.91, -0.89, -0.90, -0.88, -0.92, -0.89, -0.90, -0.88,
        -0.91, -0.86, -0.89, -0.90, -0.88, -0.92, -0.89, -0.90, -0.88, -0.91,
        -0.87, -0.89, -0.91, -0.89, -0.90, -0.93, -0.88, -0.90, -0.88, -0.91,
        -0.89, -0.87, -0.91, -0.89, -0.90, -0.88, -0.92, -0.89, -0.88, -0.90,
        -0.89, -0.91, -0.90, -0.88, -0.92, -0.89, -0.87, -0.91, -0.89, -0.90,
        -0.88, -0.92, -0.89, -0.87, -0.90, -0.89, -0.91, -0.88, -0.90, -0.89,
        -0.87, -0.91, -0.89, -0.88, -0.92, -0.89, -0.90, -0.93, -0.88, -0.90,
        -0.87, -0.91, -0.89, -0.90, -0.88, -0.90, -0.92, -0.88, -0.89, -0.87,
        -0.91, -0.89, -0.92, -0.88, -0.90, -0.89, -0.87, -0.91, -0.86, -0.90],
    "age3": [
        0.171, 0.184, 0.174, 0.168, 0.180, 0.176, 0.172, 0.182, 0.169, 0.177,
        0.165, 0.188, 0.171, 0.179, 0.175, 0.167, 0.183, 0.172, 0.180, 0.169,
        0.177, 0.185, 0.170, 0.179, 0.174, 0.181, 0.168, 0.176, 0.184, 0.172,
        0.178, 0.170, 0.160, 0.181, 0.175, 0.173, 0.179, 0.171, 0.177, 0.183,
        0.167, 0.176, 0.181, 0.170, 0.178, 0.174, 0.185, 0.169, 0.177, 0.181,
        0.172, 0.179, 0.170, 0.186, 0.175, 0.168, 0.180, 0.176, 0.172, 0.182,
        0.174, 0.167, 0.179, 0.176, 0.170, 0.184, 0.173, 0.178, 0.169, 0.181,
        0.175, 0.172, 0.182, 0.170, 0.179, 0.188, 0.173, 0.177, 0.168, 0.181,
        0.172, 0.180, 0.175, 0.185, 0.170, 0.178, 0.182, 0.171, 0.176, 0.166,
        0.180, 0.173, 0.179, 0.170, 0.182, 0.176, 0.186, 0.162, 0.178, 0.172],
    "hs_week": [
        0.61, 0.60, 0.63, 0.61, 0.62, 0.60, 0.63, 0.59, 0.61, 0.62,
        0.60, 0.63, 0.61, 0.59, 0.62, 0.63, 0.60, 0.61, 0.62, 0.60,
        0.63, 0.61, 0.62, 0.60, 0.63, 0.61, 0.60, 0.62, 0.61, 0.63,
        0.60, 0.62, 0.63, 0.61, 0.59, 0.62, 0.61, 0.63, 0.60, 0.62,
        0.61, 0.63, 0.60, 0.62, 0.61, 0.63, 0.60, 0.59, 0.62, 0.63,
        0.61, 0.62, 0.59, 0.61, 0.63, 0.60, 0.62, 0.60, 0.64, 0.61,
        0.62, 0.60, 0.63, 0.61, 0.60, 0.63, 0.62, 0.60, 0.63, 0.61,
        0.62, 0.60, 0.61, 0.63, 0.60, 0.62, 0.61, 0.63, 0.60, 0.62,
        0.61, 0.63, 0.60, 0.62, 0.61, 0.63, 0.60, 0.62, 0.63, 0.61,
        0.60, 0.62, 0.61, 0.63, 0.59, 0.62, 0.61, 0.63, 0.60, 0.62],
    "hs_week2": [
        -0.009, -0.014, -0.005, -0.011, -0.018, -0.006, -0.013, -0.009, -0.016, -0.005,
        -0.011, -0.015, -0.007, -0.021, -0.010, -0.006, -0.013, -0.022, -0.003, -0.012,
        -0.016, -0.007, -0.004, -0.014, -0.010, -0.017, -0.006, -0.012, -0.008, -0.015,
        -0.005, -0.011, -0.016, -0.008, -0.013, -0.003, -0.010, -0.018, -0.007, -0.014,
        -0.009, -0.005, -0.012, 0.002, -0.016, -0.010, -0.007, -0.019, -0.005, -0.011,
        -0.014, -0.008, -0.017, -0.006, -0.011, -0.015, -0.007, -0.012, -0.022, -0.009,
        -0.021, -0.013, -0.005, 0.003, -0.010, -0.016, -0.007, -0.020, -0.006, -0.012,
        -0.015, -0.009, -0.004, -0.013, -0.018, -0.007, -0.011, -0.006, -0.014, -0.009,
        -0.016, -0.005, -0.011, -0.013, -0.008, -0.018, -0.006, 0.004, -0.012, -0.009,
        -0.015, -0.006, -0.022, -0.011, -0.007, -0.016, -0.006, -0.013, -0.019, -0.010],
    "hs_week3": [
        -0.034, -0.036, -0.033, -0.037, -0.035, -0.038, -0.033, -0.035, -0.032, -0.036,
        -0.034, -0.033, -0.037, -0.034, -0.036, -0.031, -0.035, -0.036, -0.033, -0.035,
        -0.031, -0.039, -0.034, -0.036, -0.033, -0.035, -0.034, -0.037, -0.033, -0.036,
        -0.035, -0.032, -0.036, -0.034, -0.033, -0.036, -0.034, -0.037, -0.032, -0.035,
        -0.038, -0.031, -0.034, -0.036, -0.033, -0.035, -0.034, -0.036, -0.033, -0.035,
        -0.033, -0.036, -0.034, -0.038, -0.033, -0.035, -0.034, -0.036, -0.035, -0.031,
        -0.034, -0.036, -0.033, -0.035, -0.034, -0.036, -0.033, -0.037, -0.034, -0.035,
        -0.032, -0.036, -0.033, -0.038, -0.035, -0.033, -0.036, -0.034, -0.036, -0.033,
        -0.035, -0.034, -0.038, -0.033, -0.036, -0.035, -0.033, -0.036, -0.034, -0.035,
        -0.032, -0.030, -0.035, -0.036, -0.033, -0.035, -0.037, -0.034, -0.032, -0.038],
}

n_draws = 1000
TEXT = "#262626"


def interleave(even, odd):
    return [v for pair in zip(even, odd) for v in pair]


plt.rcParams.update({
    "font.family": "DejaVu Sans",
    "axes.facecolor": "#eeeeee",
    "axes.edgecolor": "#eeeeee",
    "axes.grid": True,
    "grid.color": "white",
    "grid.linewidth": 1.0,
    "xtick.color": TEXT,
    "ytick.color": TEXT,
    "xtick.labelsize": 10,
    "ytick.labelsize": 10,
    "xtick.major.size": 0,
    "ytick.major.size": 0,
    "xtick.major.pad": 6,
    "ytick.major.pad": 6,
})

fig, axes = plt.subplots(len(var_names), 2, figsize=(12.11, 18.11), dpi=100)
fig.subplots_adjust(left=0.014, right=0.993, top=0.9834, bottom=0.0171,
                    wspace=0.1465, hspace=0.343)

for i, name in enumerate(var_names):
    ax_kde, ax_tr = axes[i]

    # density panel
    ax_kde.plot(kde_x[name][0], kde_y[name][0], color=BLUE, lw=1.5,
                solid_joinstyle="round")
    ax_kde.plot(kde_x[name][1], kde_y[name][1], color=ORANGE, lw=1.5,
                solid_joinstyle="round")
    ax_kde.set_yticks([])
    ax_kde.grid(axis="y", visible=False)
    ax_kde.set_title(name, fontsize=12, color=TEXT, pad=6)

    # trace panel
    blue = interleave(blue_even[name], blue_odd[name])
    orange = interleave(orange_even[name], orange_odd[name])
    draws = np.linspace(0, n_draws - 1, len(blue))
    ax_tr.plot(draws, blue, color=BLUE, alpha=0.35, lw=1.5)
    ax_tr.plot(draws, orange, color=ORANGE, alpha=0.35, lw=1.5)
    ax_tr.set_xlim(0, n_draws - 1)
    ax_tr.set_title(name, fontsize=12, color=TEXT, pad=6)

    for ax in (ax_kde, ax_tr):
        for sp in ax.spines.values():
            sp.set_visible(False)
        ax.set_axisbelow(True)

fig.savefig("out.png", dpi=100)
